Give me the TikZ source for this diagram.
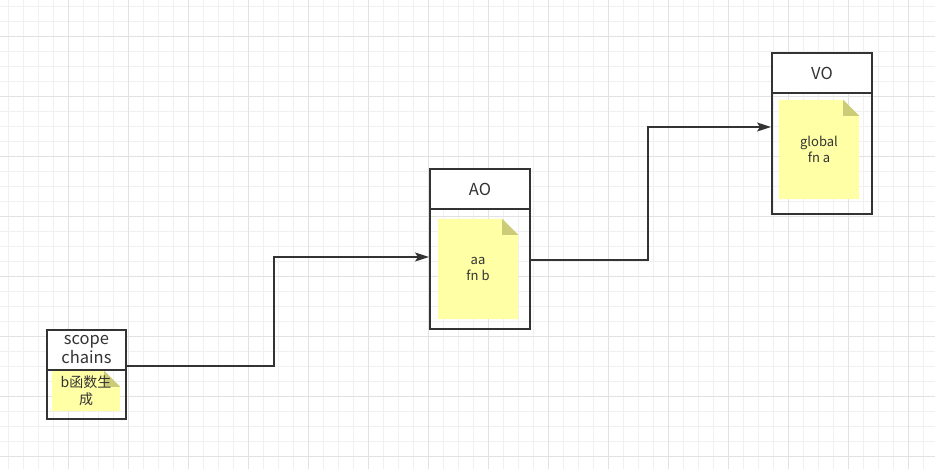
\documentclass[tikz,border=0pt]{standalone}
\usepackage{fontspec}
\setmainfont{Noto Sans CJK SC}
\usetikzlibrary{arrows.meta}
\definecolor{ink}{HTML}{333333}
\definecolor{notey}{HTML}{FFFFA6}
\definecolor{notefold}{HTML}{CCCC78}
\definecolor{gridminor}{HTML}{F0F0F0}
\definecolor{gridmajor}{HTML}{E2E2E2}
\tikzset{
  minorline/.style={draw=gridminor, line width=1pt},
  majorline/.style={draw=gridmajor, line width=1pt},
  objbox/.style={draw=ink, line width=2pt, fill=none, inner sep=0pt},
  headbox/.style={fill=white, draw=none, inner sep=0pt},
  headtext/.style={text=ink, font=\fontsize{16.5}{19}\selectfont, align=center, inner sep=0pt},
  notebox/.style={draw=none, inner sep=0pt},
  notetext/.style={text=ink, font=\fontsize{13}{16.5}\selectfont, align=center, inner sep=0pt},
  link/.style={draw=ink, line width=1.6pt, -{Stealth[length=14pt,width=9pt,inset=3pt]}, rounded corners=0pt},
}
\newcommand\drawnote[1]{%
  \fill[notey] (#1.north west) -- ([xshift=-16pt]#1.north east) -- ([yshift=-16pt]#1.north east) -- (#1.south east) -- (#1.south west) -- cycle;
  \fill[notefold] ([xshift=-16pt]#1.north east) -- ([xshift=-16pt,yshift=-16pt]#1.north east) -- ([yshift=-16pt]#1.north east) -- cycle;
}
\begin{document}
\begin{tikzpicture}[x=1pt,y=-1pt]
\useasboundingbox (0,0) rectangle (935,469);
\fill[white] (0,0) rectangle (935,469);
% grid
\foreach \x in {8,23,...,935} \draw[minorline] (\x,0) -- (\x,469);
\foreach \y in {6,21,...,469} \draw[minorline] (0,\y) -- (935,\y);
\foreach \x in {68,128,...,935} \draw[majorline] (\x,0) -- (\x,469);
\foreach \y in {36,96,...,469} \draw[majorline] (0,\y) -- (935,\y);

% header backgrounds
\node[headbox, minimum width=79pt, minimum height=40pt] (schead) at (86.5,350) {};
\node[headbox, minimum width=100pt, minimum height=40pt] (aohead) at (480,189) {};
\node[headbox, minimum width=100pt, minimum height=40pt] (vohead) at (822,73) {};

% notes
\node[notebox, minimum width=68pt, minimum height=40pt] (scnote) at (86,391) {};
\node[notebox, minimum width=80pt, minimum height=100pt] (aonote) at (478,269) {};
\node[notebox, minimum width=80pt, minimum height=99pt] (vonote) at (819,149.5) {};
\drawnote{scnote}
\drawnote{aonote}
\drawnote{vonote}

% outer boxes
\node[objbox, minimum width=79pt, minimum height=89pt] (sc) at (86.5,374.5) {};
\node[objbox, minimum width=100pt, minimum height=160pt] (ao) at (480,249) {};
\node[objbox, minimum width=100pt, minimum height=161pt] (vo) at (822,133.5) {};
\draw[ink, line width=2pt] (schead.south west) -- (schead.south east);
\draw[ink, line width=2pt] (aohead.south west) -- (aohead.south east);
\draw[ink, line width=2pt] (vohead.south west) -- (vohead.south east);

% texts
\node[headtext] (sctitle) at (schead.center) {scope\\chains};
\node[headtext] (aotitle) at (aohead.center) {AO};
\node[headtext] (votitle) at (vohead.center) {VO};
\node[notetext, font=\fontsize{14}{17}\selectfont] (sctext) at (scnote.center) {b函数生\\成};
\node[notetext] (aotext) at (aonote.center) {aa\\fn b};
\node[notetext] (votext) at (vonote.center) {global\\fn a};

% connectors
\coordinate (c1) at (274,366);
\coordinate (c2) at (274,257);
\coordinate (c3) at (648,260);
\coordinate (c4) at (648,127);
\draw[link] (sc.east |- c1) -- (c1) -- (c2) -- (ao.west |- c2);
\draw[link] (ao.east |- c3) -- (c3) -- (c4) -- (vo.west |- c4);
\end{tikzpicture}
\end{document}
